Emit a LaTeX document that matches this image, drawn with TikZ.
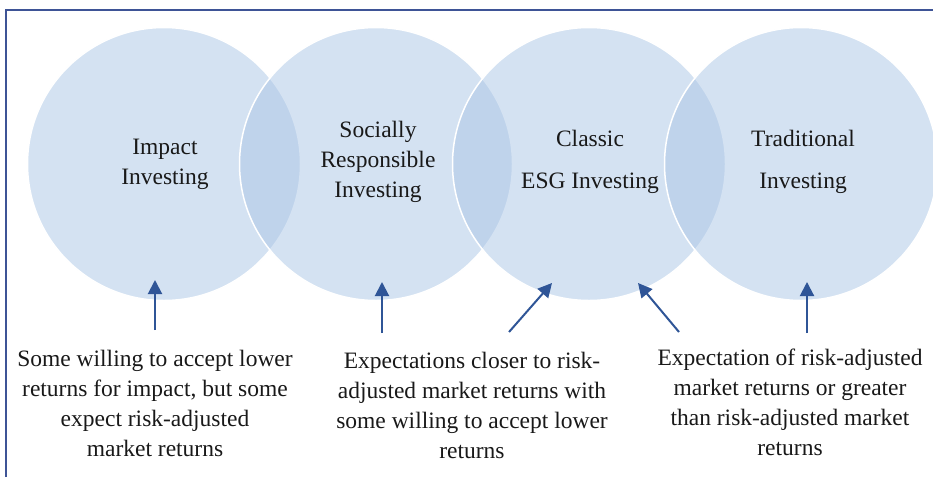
\documentclass[tikz,border=0pt]{standalone}
\usepackage{fontspec}
\setmainfont{Liberation Serif}
\definecolor{frameblue}{RGB}{62,84,150}
\definecolor{arrowblue}{RGB}{47,85,151}
\definecolor{disc}{RGB}{171,198,230}
\definecolor{ink}{RGB}{25,25,25}
\usetikzlibrary{arrows.meta,positioning}

\begin{document}
\begin{tikzpicture}[x=1pt,y=-1pt,
    disk/.style={circle,minimum size=273pt,inner sep=0pt,fill=disc,fill opacity=0.5,draw=white,line width=1.5pt},
    label/.style={font=\fontsize{23.5}{30}\selectfont,text=ink,align=center},
    pointer/.style={-{Triangle[length=14pt,width=14pt]},arrowblue,line width=2pt}]
        \useasboundingbox (0,0) rectangle (933,477);
        \fill[white] (0,0) rectangle (933,477);
        \draw[frameblue,line width=2pt] (6,477) -- (6,10) -- (934,10);
        % the four groups
        \node[disk] (impact) at (164,164) {};
        \node[disk] (sri) at (376,164) {};
        \node[disk] (esg) at (589,164) {};
        \node[disk] (trad) at (801,164) {};
        \node[label] (impactname) at (165,164) {Impact\\Investing};
        \node[label] (sriname) at (378,162) {Socially\\Responsible\\Investing};
        \node[label] (esgname) at (590,162) {Classic\\[12pt]ESG Investing};
        \node[label] (tradname) at (803,162) {Traditional\\[12pt]Investing};
        % expectations
        \node[label] (impactnote) at (155,403) {Some willing to accept lower\\returns for impact, but some\\expect risk-adjusted\\market returns};
        \node[label] (srinote) at (472,405) {Expectations closer to risk-\\adjusted market returns with\\some willing to accept lower\\returns};
        \node[label] (tradnote) at (790,402) {Expectation of risk-adjusted\\market returns or greater\\than risk-adjusted market\\returns};
        \coordinate (tipA) at (155,280);
        \coordinate (tailA) at (155,330);
        \coordinate (tipB) at (382,282);
        \coordinate (tailB) at (382,333);
        \coordinate (tipC) at (552,283);
        \coordinate (tailC) at (509,332);
        \coordinate (tipD) at (638,283);
        \coordinate (tailD) at (679,332);
        \coordinate (tipE) at (807,282);
        \coordinate (tailE) at (807,333);
        \draw[pointer] (tailA) -- (tipA);
        \draw[pointer] (tailB) -- (tipB);
        \draw[pointer] (tailC) -- (tipC);
        \draw[pointer] (tailD) -- (tipD);
        \draw[pointer] (tailE) -- (tipE);
      \end{tikzpicture}
\end{document}
